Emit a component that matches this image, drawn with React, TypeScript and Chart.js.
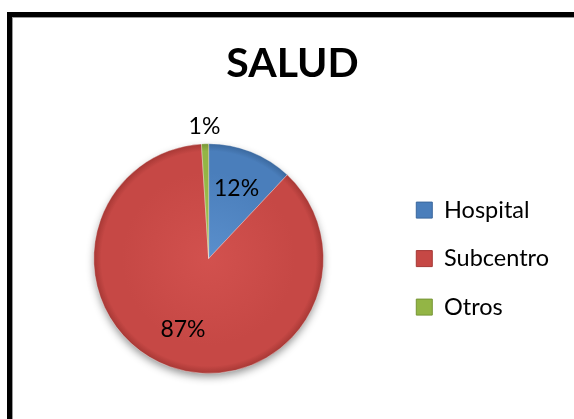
import React, { useEffect, useRef } from 'react';
import { Chart, registerables } from 'chart.js';

Chart.register(...registerables);

const categories = ['Hospital', 'Subcentro', 'Otros'];
const values = [12, 87, 1];
const baseColors = ['#4A7EBB', '#C64845', '#93B545'];
const innerColors = ['#5A8FCC', '#D2514E', '#A3C555'];
const edgeColors = ['#3A679C', '#A53734', '#769435'];
const titleText = 'SALUD';

const FONT = 'Lato, "Open Sans", sans-serif';

const pieShadow = {
  id: 'pieShadow',
  beforeDatasetsDraw(chart: any) {
    const meta = chart.getDatasetMeta(0);
    const arc = meta.data[0];
    if (!arc) return;
    const { x, y, outerRadius } = arc.getProps(['x', 'y', 'outerRadius'], true);
    const ctx = chart.ctx;
    ctx.save();
    ctx.shadowColor = 'rgba(0,0,0,0.45)';
    ctx.shadowBlur = 8;
    ctx.shadowOffsetY = 4;
    ctx.beginPath();
    ctx.arc(x, y, outerRadius - 1, 0, Math.PI * 2);
    ctx.fillStyle = baseColors[1];
    ctx.fill();
    ctx.restore();
  },
};

const pctLabels = {
  id: 'pctLabels',
  afterDatasetsDraw(chart: any) {
    const meta = chart.getDatasetMeta(0);
    const data = chart.data.datasets[0].data as number[];
    const total = data.reduce((a, b) => a + b, 0);
    const ctx = chart.ctx;
    ctx.save();
    ctx.font = `23px ${FONT}`;
    ctx.fillStyle = '#000';
    ctx.textAlign = 'center';
    ctx.textBaseline = 'middle';
    meta.data.forEach((arc: any, i: number) => {
      const { x, y, startAngle, endAngle, outerRadius } = arc.getProps(
        ['x', 'y', 'startAngle', 'endAngle', 'outerRadius'],
        true
      );
      const pct = (data[i] / total) * 100;
      const mid = (startAngle + endAngle) / 2;
      const r = pct < 5 ? outerRadius + 17 : outerRadius * 0.66;
      ctx.fillText(Math.round(pct) + '%', x + Math.cos(mid) * r, y + Math.sin(mid) * r);
    });
    ctx.restore();
  },
};

function sliceFill(c: any) {
  const i = c.dataIndex ?? 0;
  const area = c.chart.chartArea;
  if (!area) return baseColors[i];
  const cx = (area.left + area.right) / 2;
  const cy = (area.top + area.bottom) / 2;
  const R = Math.min(area.right - area.left, area.bottom - area.top) / 2;
  const g = c.chart.ctx.createRadialGradient(cx, cy, 0, cx, cy, R);
  g.addColorStop(0, innerColors[i]);
  g.addColorStop(0.75, baseColors[i]);
  g.addColorStop(0.93, baseColors[i]);
  g.addColorStop(1, edgeColors[i]);
  return g;
}

export default function App() {
  const ref = useRef<HTMLCanvasElement>(null);
  useEffect(() => {
    if (!ref.current) return;
    const chart = new Chart(ref.current, {
      type: 'pie',
      data: {
        labels: categories,
        datasets: [
          {
            data: values,
            backgroundColor: sliceFill as any,
            borderColor: 'rgba(255,255,255,0.35)',
            borderWidth: 1,
          },
        ],
      },
      options: {
        responsive: false,
        animation: false,
        events: [],
        layout: { padding: { left: 26, right: 15, top: 0, bottom: 45 } },
        plugins: {
          title: {
            display: true,
            text: titleText,
            color: '#000',
            font: { family: FONT, size: 41, weight: 'bold' },
            padding: { top: 39, bottom: 55 },
          },
          legend: {
            position: 'right',
            fullSize: false,
            labels: {
              boxWidth: 16,
              boxHeight: 16,
              padding: 25,
              color: '#000',
              font: { family: FONT, size: 23.5 },
              generateLabels: (ch: any) =>
                ch.data.labels.map((t: string, i: number) => ({
                  text: t,
                  fillStyle: baseColors[i],
                  strokeStyle: edgeColors[i],
                  lineWidth: 1,
                  hidden: false,
                  index: i,
                })),
            },
          },
          tooltip: { enabled: false },
        },
      },
      plugins: [pieShadow, pctLabels],
    });
    return () => chart.destroy();
  }, []);

  return (
    <div
      style={{
        position: 'fixed',
        left: 0,
        top: 0,
        width: 574,
        height: 419,
        overflow: 'hidden',
        background: '#fff',
      }}
    >
      <canvas ref={ref} width={574} height={419} style={{ position: 'absolute', left: 0, top: 0 }} />
      <div
        style={{
          position: 'absolute',
          left: 7,
          top: 12,
          width: 700,
          height: 600,
          border: '5px solid #000',
          boxShadow: 'inset 1px 1px 0 #999',
          pointerEvents: 'none',
        }}
      />
    </div>
  );
}
